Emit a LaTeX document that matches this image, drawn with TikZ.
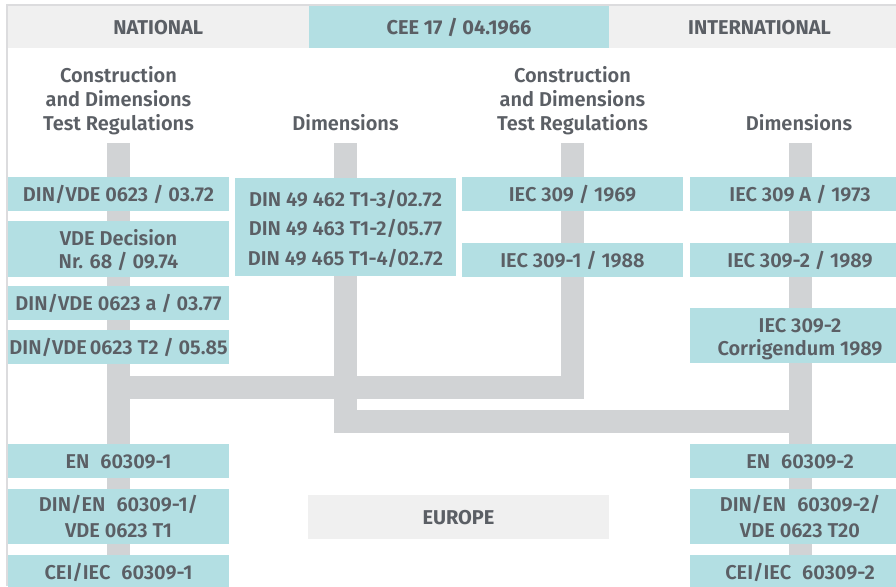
\documentclass[tikz,border=0pt]{standalone}
\usepackage{fontspec}
\setmainfont{Fira Sans SemiBold}
\newfontfamily\hdrfont{Fira Sans Bold}
\definecolor{boxc}{HTML}{B3DFE3}
\definecolor{hdrc}{HTML}{F0F0F0}
\definecolor{barc}{HTML}{D1D3D5}
\definecolor{txtc}{HTML}{5B5F65}
\definecolor{edgec}{HTML}{DCDCDE}
\newcommand{\fsz}[1]{\fontsize{20}{#1}\selectfont}
\tikzset{
  stdbox/.style={fill=boxc, draw=none, inner sep=0pt, minimum width=221, minimum height=34,
    text=txtc, align=center, font=\fsz{24}, text height=15.5, text depth=0},
  hdrbox/.style={fill=hdrc, draw=none, inner sep=0pt, minimum width=301, minimum height=42,
    text=txtc, font=\hdrfont\fsz{24}, text height=15.5, text depth=0},
  cyanhdr/.style={hdrbox, fill=boxc},
  headtxt/.style={inner sep=0pt, text=txtc, align=center, font=\fsz{24}},
  barline/.style={draw=barc, line width=23, line join=miter, line cap=butt},
  edgeline/.style={draw=edgec, line width=1.3}
}
\begin{document}
\begin{tikzpicture}[x=1pt,y=-1pt]
\useasboundingbox (0,0) rectangle (896,586);
\fill[white] (0,0) rectangle (896,586);
% frame lines
\coordinate (fa) at (7,586);
\coordinate (fb) at (7,5);
\coordinate (fc) at (910,5);
\draw[edgeline] (fa) -- (fb) -- (fc);
% header
\node[hdrbox, minimum width=301.5] (nat) at (158.25,27) {NATIONAL};
\node[cyanhdr, minimum width=300] (cee) at (459,27) {CEE 17 / 04.1966};
\node[hdrbox] (int) at (759.5,27) {INTERNATIONAL};
% column headings
\node[headtxt, anchor=base] (h1) at (118.5,130) {Construction\\and Dimensions\\Test Regulations};
\node[headtxt, anchor=base] (h2) at (345.5,130) {Dimensions};
\node[headtxt, anchor=base] (h3) at (572.5,130) {Construction\\and Dimensions\\Test Regulations};
\node[headtxt, anchor=base] (h4) at (799,130) {Dimensions};
% bar coordinates
\coordinate (t1) at (118.5,143);
\coordinate (t2) at (345.5,143);
\coordinate (t3) at (572.5,143);
\coordinate (t4) at (800,143);
\coordinate (e1) at (118.5,592);
\coordinate (e4) at (800,592);
\coordinate (k3) at (572.5,387.5);
\coordinate (j1) at (118.5,387.5);
\coordinate (k2) at (345.5,421.5);
\coordinate (j4) at (800,421.5);
\draw[barline] (t1) -- (e1);
\draw[barline] (t4) -- (e4);
\draw[barline] (t3) -- (k3) -- (j1);
\draw[barline] (t2) -- (k2) -- (j4);
% national construction column
\node[stdbox] (n1) at (118.5,194) {DIN/VDE 0623 / 03.72};
\node[stdbox, minimum height=56, font=\fsz{23}, text height=38.5] (n2) at (118.5,249) {VDE Decision\\Nr. 68 / 09.74};
\node[stdbox] (n3) at (118.5,303) {DIN/VDE 0623 a / 03.77};
\node[stdbox] (n4) at (118.5,347) {DIN/VDE\hspace{-0.1em} 0623 T2 / 05.85};
% national dimensions
\node[stdbox, minimum height=98, font=\fsz{29.5}, text height=76.5] (d1) at (345.5,227) {DIN 49 462 T1-3/02.72\\DIN 49 463 T1-2/05.77\\DIN 49 465 T1-4/02.72};
% international construction
\node[stdbox] (i1) at (572.5,194) {IEC 309 / 1969};
\node[stdbox] (i2) at (572.5,260) {IEC 309-1 / 1988};
% international dimensions
\node[stdbox] (m1) at (800,194) {IEC 309 A / 1973};
\node[stdbox] (m2) at (800,260) {IEC 309-2 / 1989};
\node[stdbox, minimum height=55, font=\fsz{23}, text height=39.5] (m3) at (800,335.5) {IEC 309-2\\Corrigendum 1989};
% european
\node[stdbox] (p1) at (118.5,461) {EN\hspace{0.55em}60309-1};
\node[stdbox, minimum height=55, font=\fsz{26}, text height=41.5] (p2) at (118.5,516.5) {DIN/EN\hspace{0.55em}60309-1/\\VDE 0623 T1};
\node[stdbox] (p3) at (118.5,572) {CEI/IEC\hspace{0.55em}60309-1};
\node[stdbox] (q1) at (800,461) {EN\hspace{0.55em}60309-2};
\node[stdbox, minimum height=55, font=\fsz{26}, text height=41.5] (q2) at (800,516.5) {DIN/EN\hspace{0.55em}60309-2/\\VDE 0623 T20};
\node[stdbox] (q3) at (800,572) {CEI/IEC\hspace{0.55em}60309-2};
\node[hdrbox, minimum height=44] (eu) at (458.5,517) {EUROPE};
\end{tikzpicture}
\end{document}
